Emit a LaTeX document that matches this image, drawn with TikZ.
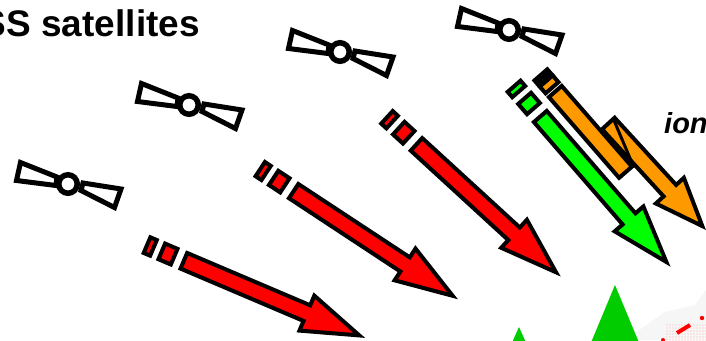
\documentclass[tikz,border=0pt]{standalone}
\usepackage{fontspec}
\setmainfont{Liberation Sans}

% shaft and head of one ray: {colour}{head length}{start x}{start y}{tip x}{tip y}
\newcommand{\rayarrow}[6]{
    \pgfmathsetmacro{\rayangle}{atan2(#6-#4,#5-#3)}
    \pgfmathsetmacro{\raylen}{veclen(#5-#3,#6-#4)-4}
    \begin{scope}[shift={(#3,#4)}, rotate=-\rayangle]
        \draw[rayline, fill=#1] (2,-8.5) -- (\raylen-#2,-8.5) -- (\raylen-#2,-19) -- (\raylen,0)
            -- (\raylen-#2,19) -- (\raylen-#2,8.5) -- (2,8.5) -- cycle;
    \end{scope}
}
% the two short pieces behind a ray: {colour}{start x}{start y}{tip x}{tip y}
\newcommand{\raydash}[5]{
    \pgfmathsetmacro{\rayangle}{atan2(#5-#3,#4-#2)}
    \begin{scope}[shift={(#2,#3)}, rotate=-\rayangle]
        \draw[rayline, fill=#1] (-22,-8.5) rectangle (-8.5,8.5);
        \draw[rayline, fill=#1] (-38,-8.5) rectangle (-31,8.5);
    \end{scope}
}

\begin{document}
\begin{tikzpicture}[
                    x=1pt, y=-1pt,
                    rayline/.style={draw=black, line width=4pt, line join=miter},
                    sitefill/.style={fill=green!80!black, draw=none},
                    title/.style={font=\fontsize{37}{37}\selectfont\bfseries, inner sep=0pt},
                    satellite/.pic={
                        \draw[line width=5pt, line join=miter] (-47.5,-21.5) -- (-51.5,-3.5) -- (-12,1.5) -- (-11,-7) -- cycle;
                        \draw[line width=5pt, line join=miter] (53,5) -- (46.5,23.5) -- (13,6.5) -- (15,-1) -- cycle;
                        \draw[line width=5.5pt] (0,0) circle (9.25);
                    }
                ]
    \useasboundingbox (0,0) rectangle (706,340);
    \clip (0,0) rectangle (706,340);

    % ground in the corner
    \fill[gray!7] (625,340) -- (665,312) -- (695,305) -- (706,290) -- (706,340) -- cycle;
    \foreach \dotx in {667,670,...,706}
        \foreach \doty in {325,328,...,340}
            \fill[red!30] (\dotx,\doty) circle (0.7);
    \draw[red, line width=4pt] (677,333) -- (690,325);
    \fill[red] (702,318) circle (2.2);
    \fill[red] (663,340) circle (2);

    % receivers
    \fill[sitefill] (615,285) -- (640,345) -- (590,345) -- cycle;
    \fill[sitefill] (519,327) -- (527,345) -- (511,345) -- cycle;

    % satellites
    \pic (sat1) at (68,184) {satellite};
    \pic (sat2) at (189,105) {satellite};
    \pic (sat3) at (340,52) {satellite};
    \pic (sat4) at (509,30) {satellite};

    % red rays
    \rayarrow{red}{57}{182}{260}{363}{337}
    \raydash{red}{182}{260}{363}{337}
    \rayarrow{red}{57}{292}{190}{456}{298}
    \raydash{red}{292}{190}{456}{298}
    \rayarrow{red}{57}{415}{143}{559}{275}
    \raydash{red}{415}{143}{559}{275}

    % green ray
    \rayarrow{green}{57}{539}{115}{669}{265}
    \raydash{green}{539}{115}{669}{265}

    % delayed orange ray, then the first part over it
    \definecolor{rayorange}{RGB}{255,153,0}
    \rayarrow{rayorange}{48}{607}{122}{705}{229}
    \draw[line width=3pt] (613,118) -- (632,163);
    \begin{scope}[shift={(554,90)}, rotate=-49]
        \draw[rayline, fill=rayorange] (2,-8.5) rectangle (109,8.5);
        \draw[rayline, fill=rayorange] (-12,-8.5) rectangle (-3,8.5);
        \draw[rayline, fill=black] (-20,-8.5) rectangle (-12,8.5);
    \end{scope}

    % labels
    \node[title, anchor=base east] (satlabel) at (200,36) {SS satellites};
    \node[font=\fontsize{29}{29}\selectfont\bfseries\itshape, inner sep=0pt, anchor=base west] (ionlabel) at (664,133) {ion};
\end{tikzpicture}
\end{document}
